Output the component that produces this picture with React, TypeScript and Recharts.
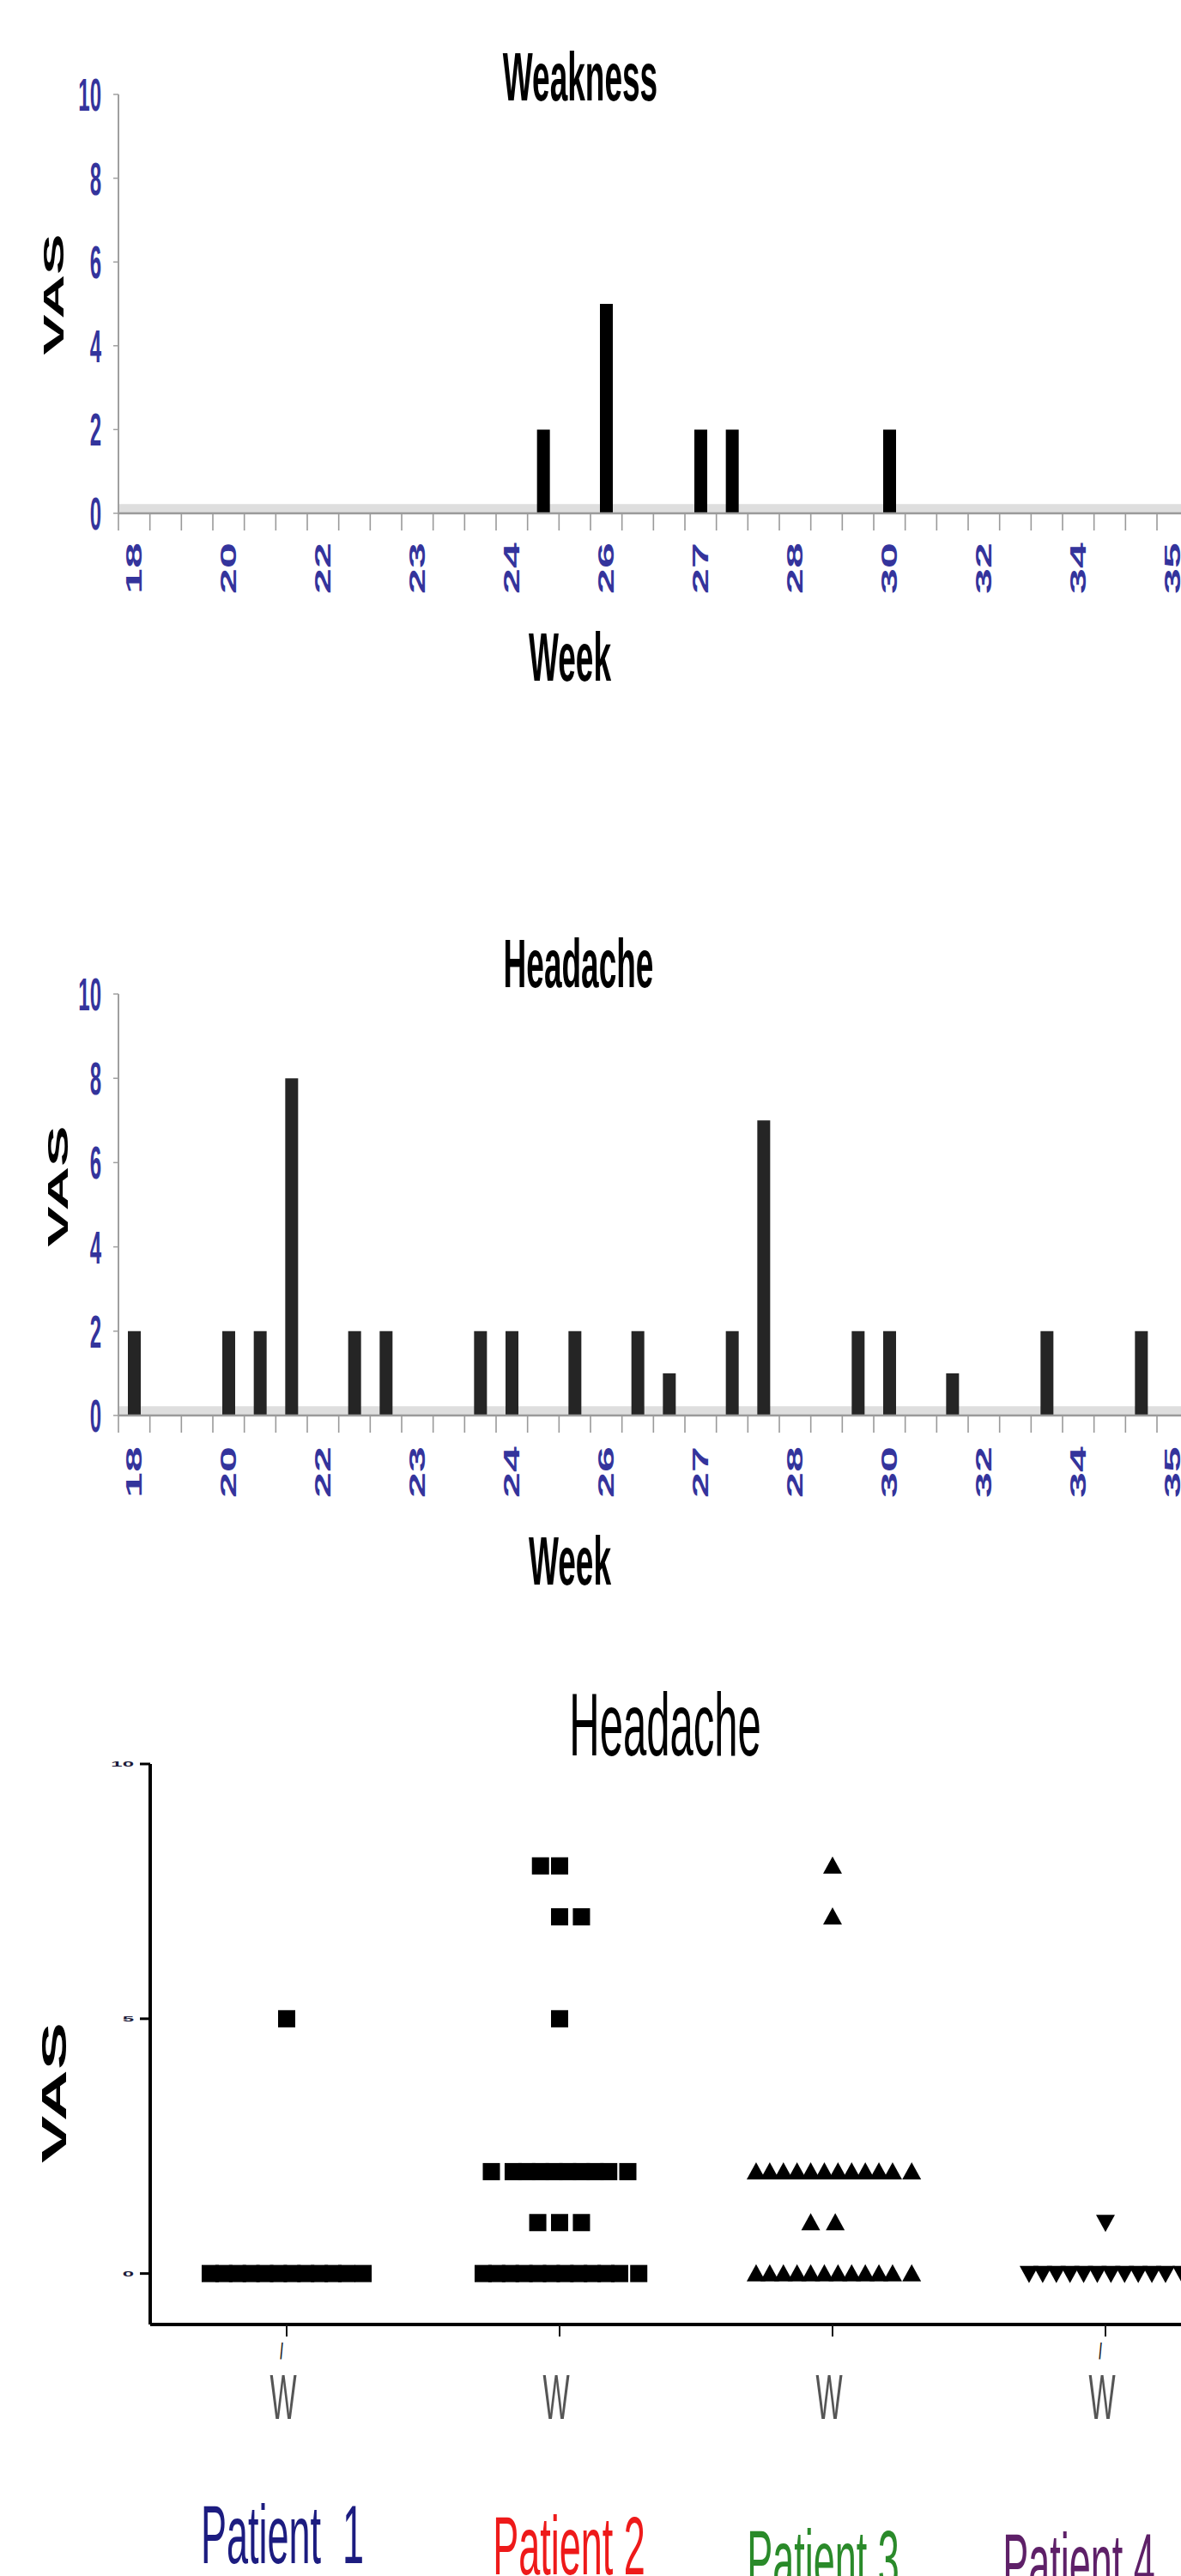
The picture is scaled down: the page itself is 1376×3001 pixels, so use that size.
import React from 'react';
import { BarChart, Bar, XAxis, YAxis, ReferenceArea, ScatterChart, Scatter } from 'recharts';

// ---------- data ----------
const slotLabels = ['18','','','20','','','22','','','23','','','24','','','26','','','27','','','28','','','30','','','32','','','34','','','35',''];
const weaknessVAS = [0,0,0,0,0, 0,0,0,0,0, 0,0,0,2,0, 5,0,0,2,2, 0,0,0,0,2, 0,0,0,0,0, 0,0,0,0,0];
const headacheVAS = [2,0,0,2,2, 8,0,2,2,0, 0,2,2,0,2, 0,2,1,0,2, 7,0,0,2,2, 0,1,0,0,2, 0,0,2,0,0];
const vasTicks = [0, 2, 4, 6, 8, 10];

const patientNames = ['Patient\u00A0\u00A01', 'Patient 2', 'Patient 3', 'Patient 4'];
const patientTicks = [1, 2, 3, 4];
const patientTickMarks = ['/', '', '', '/'];
const scatterTicks = [0, 5, 10];

const patient1Rows = [
  { vas: 0, offsets: [-0.28, -0.23, -0.18, -0.13, -0.08, -0.03, 0.02, 0.07, 0.12, 0.17, 0.22, 0.28] },
  { vas: 5, offsets: [0] },
];
const patient2Rows = [
  { vas: 0, offsets: [-0.28, -0.23, -0.18, -0.13, -0.08, -0.03, 0.02, 0.07, 0.12, 0.17, 0.22, 0.29] },
  { vas: 1, offsets: [-0.08, 0, 0.08] },
  { vas: 2, offsets: [-0.25, -0.17, -0.12, -0.07, -0.02, 0.03, 0.08, 0.13, 0.18, 0.25] },
  { vas: 5, offsets: [0] },
  { vas: 7, offsets: [0, 0.08] },
  { vas: 8, offsets: [-0.07, 0] },
];
const patient3Rows = [
  { vas: 0, offsets: [-0.28, -0.23, -0.18, -0.13, -0.08, -0.03, 0.02, 0.07, 0.12, 0.17, 0.22, 0.29] },
  { vas: 1, offsets: [-0.08, 0.01] },
  { vas: 2, offsets: [-0.28, -0.23, -0.18, -0.13, -0.08, -0.03, 0.02, 0.07, 0.12, 0.17, 0.22, 0.29] },
  { vas: 7, offsets: [0] },
  { vas: 8, offsets: [0] },
];
const patient4Rows = [
  { vas: 0, offsets: [-0.28, -0.23, -0.18, -0.13, -0.08, -0.03, 0.02, 0.07, 0.12, 0.17, 0.22, 0.28] },
  { vas: 1, offsets: [0] },
];

// ---------- layout ----------
const FONT = '"Liberation Sans", Arial, sans-serif';
const SLOTS = slotLabels.length;
const PLOT_LEFT = 138;
const BAND = 36.667;
const PLOT_W = BAND * SLOTS;
const BAR_CHART_W = 1460;
const BAR_CHART_H = 820;
const AXIS_BLUE = '#34349c';

const makeBarData = (values: number[]) => values.map((v, i) => ({ slot: i, vas: v }));
const weaknessData = makeBarData(weaknessVAS);
const headacheData = makeBarData(headacheVAS);

const toPoints = (p: number, rows: { vas: number; offsets: number[] }[]) =>
  rows.flatMap((r) => r.offsets.map((o) => ({ x: p + o, y: r.vas })));

const p1 = toPoints(1, patient1Rows);
const p2 = toPoints(2, patient2Rows);
const p3 = toPoints(3, patient3Rows);
const p4 = toPoints(4, patient4Rows);

// ---------- helpers ----------
const StretchText = ({ x, y, text, size, sy, weight = 'normal', fill = '#000', anchor = 'middle' }: any) => (
  <text
    transform={`translate(${x},${y}) scale(1,${sy})`}
    x={0}
    y={0}
    textAnchor={anchor}
    fontFamily={FONT}
    fontSize={size}
    fontWeight={weight}
    fill={fill}
    style={{ whiteSpace: 'pre' }}
  >
    {text}
  </text>
);

const VerticalText = ({ cx, cy, text, size, sx, weight = 'bold', fill = '#000' }: any) => (
  <text
    transform={`translate(${cx},${cy}) rotate(-90) scale(${sx},1)`}
    x={0}
    y={size * 0.358}
    textAnchor="middle"
    fontFamily={FONT}
    fontSize={size}
    fontWeight={weight}
    fill={fill}
  >
    {text}
  </text>
);

const makeWeekTick = (plotBottom: number, labelOffset: number) => (props: any) => {
  const { x, payload } = props;
  const label = slotLabels[payload.value];
  const bx = x - BAND / 2;
  return (
    <g>
      <line x1={bx} x2={bx} y1={plotBottom} y2={plotBottom + 20} stroke="#9a9a9a" strokeWidth={1.6} />
      {label ? (
        <VerticalText cx={x} cy={plotBottom + labelOffset} text={label} size={25} sx={2.15} fill={AXIS_BLUE} />
      ) : null}
    </g>
  );
};

const VasTick = (props: any) => {
  const { y, payload } = props;
  const size = 24;
  return (
    <text
      transform={`translate(118,${y}) scale(1,2.2)`}
      x={0}
      y={size * 0.358}
      textAnchor="end"
      fontFamily={FONT}
      fontSize={size}
      fontWeight="bold"
      fill={AXIS_BLUE}
    >
      {payload.value}
    </text>
  );
};

const BarPanel = ({ top, plotTop, plotBottom, data, fill, labelOffset }: any) => {
  const right = BAR_CHART_W - PLOT_LEFT - PLOT_W;
  const bottom = BAR_CHART_H - 100 - plotBottom;
  return (
    <div style={{ position: 'absolute', left: 0, top }}>
      <BarChart
        width={BAR_CHART_W}
        height={BAR_CHART_H}
        data={data}
        margin={{ top: plotTop, right, bottom, left: 0 }}
        barCategoryGap={0}
      >
        <ReferenceArea y1={0} y2={0.22} fill="#dedede" fillOpacity={1} stroke="none" ifOverflow="visible" />
        <XAxis
          dataKey="slot"
          type="category"
          interval={0}
          height={100}
          axisLine={{ stroke: '#9a9a9a', strokeWidth: 2.5 }}
          tickLine={false}
          tick={makeWeekTick(plotBottom, labelOffset)}
        />
        <YAxis
          type="number"
          domain={[0, 10]}
          ticks={vasTicks}
          width={PLOT_LEFT}
          axisLine={{ stroke: '#a0a0a0', strokeWidth: 2 }}
          tickLine={{ stroke: '#a0a0a0', strokeWidth: 1.5 }}
          tickSize={6}
          tick={VasTick}
          interval={0}
        />
        <Bar dataKey="vas" fill={fill} barSize={15} isAnimationActive={false} />
      </BarChart>
    </div>
  );
};

// ---------- scatter ----------
const SC_TOP = 1900;
const SC_PLOT_LEFT = 175;
const SC_PLOT_TOP = 2055 - SC_TOP;
const SC_PLOT_BOTTOM = 2708 - SC_TOP;
const SC_W = 1460;
const SC_H = 1000;
const SC_PLOT_W = 1272;

const Square = (props: any) => {
  const { cx, cy } = props;
  return <rect x={cx - 10} y={cy - 10} width={20} height={20} fill="#000" />;
};
const TriUp = (props: any) => {
  const { cx, cy } = props;
  return <polygon points={`${cx},${cy - 11} ${cx + 11},${cy + 9} ${cx - 11},${cy + 9}`} fill="#000" />;
};
const TriDown = (props: any) => {
  const { cx, cy } = props;
  return <polygon points={`${cx - 11},${cy - 9} ${cx + 11},${cy - 9} ${cx},${cy + 11}`} fill="#000" />;
};

const WTick = (props: any) => {
  const { x, payload } = props;
  const mark = patientTickMarks[patientTicks.indexOf(payload.value)];
  return (
    <g>
      {mark ? (
        <StretchText x={x - 6} y={SC_PLOT_BOTTOM + 40} text={mark} size={13} sy={2} weight="bold" fill="#222" />
      ) : null}
      <StretchText x={x - 4} y={SC_PLOT_BOTTOM + 110} text="W" size={33} sy={2.24} fill="#555" />
    </g>
  );
};

const TinyTick = (props: any) => {
  const { y, payload } = props;
  return (
    <text
      transform={`translate(156,${y}) scale(1.2,0.45)`}
      x={0}
      y={7}
      textAnchor="end"
      fontFamily={FONT}
      fontSize={20}
      fontWeight="bold"
      fill="#1a1a3a"
    >
      {payload.value}
    </text>
  );
};

const ScatterPanel = () => (
  <div style={{ position: 'absolute', left: 0, top: SC_TOP }}>
    <ScatterChart
      width={SC_W}
      height={SC_H}
      margin={{ top: SC_PLOT_TOP, right: SC_W - SC_PLOT_LEFT - SC_PLOT_W, bottom: SC_H - 100 - SC_PLOT_BOTTOM, left: 0 }}
    >
      <XAxis
        type="number"
        dataKey="x"
        domain={[0.5, 4.5]}
        ticks={patientTicks}
        interval={0}
        height={100}
        axisLine={{ stroke: '#000', strokeWidth: 4 }}
        tickLine={{ stroke: '#111', strokeWidth: 2 }}
        tickSize={14}
        tick={WTick}
      />
      <YAxis
        type="number"
        dataKey="y"
        domain={[-1, 10]}
        ticks={scatterTicks}
        interval={0}
        width={SC_PLOT_LEFT}
        axisLine={{ stroke: '#000', strokeWidth: 4 }}
        tickLine={{ stroke: '#000', strokeWidth: 3 }}
        tickSize={12}
        tick={TinyTick}
      />
      <Scatter data={p1} shape={Square} isAnimationActive={false} />
      <Scatter data={p2} shape={Square} isAnimationActive={false} />
      <Scatter data={p3} shape={TriUp} isAnimationActive={false} />
      <Scatter data={p4} shape={TriDown} isAnimationActive={false} />
    </ScatterChart>
  </div>
);

// ---------- overlay texts ----------
const Overlay = () => (
  <svg width={1376} height={3001} style={{ position: 'absolute', left: 0, top: 0, pointerEvents: 'none' }}>
    <StretchText x={676} y={117} text="Weakness" size={37} sy={2.15} weight="bold" />
    <VerticalText cx={62} cy={343} text="VAS" size={34} sx={2.1} />
    <StretchText x={664} y={793} text="Week" size={37} sy={2.15} weight="bold" />

    <StretchText x={674} y={1150} text="Headache" size={37} sy={2.15} weight="bold" />
    <VerticalText cx={67} cy={1382} text="VAS" size={34} sx={2.1} />
    <StretchText x={664} y={1846} text="Week" size={37} sy={2.15} weight="bold" />

    <StretchText x={775} y={2045} text="Headache" size={49} sy={2.12} />
    <VerticalText cx={63} cy={2438} text="VAS" size={40} sx={2.07} />

    <StretchText x={329} y={2986} text={patientNames[0]} size={45} sy={2.15} fill="#1c1c80" />
    <StretchText x={663} y={2999} text={patientNames[1]} size={45} sy={2.15} fill="#ee1a1a" />
    <StretchText x={959} y={3015} text={patientNames[2]} size={45} sy={2.15} fill="#2a8a2a" />
    <StretchText x={1257} y={3019} text={patientNames[3]} size={45} sy={2.15} fill="#5e2068" />
  </svg>
);

export default function App() {
  return (
    <div
      style={{
        position: 'absolute',
        left: 0,
        top: 0,
        width: 1376,
        height: 3001,
        overflow: 'hidden',
        background: '#fff',
      }}
    >
      <BarPanel top={0} plotTop={110} plotBottom={598} data={weaknessData} fill="#000" labelOffset={64} />
      <BarPanel top={1050} plotTop={108} plotBottom={599} data={headacheData} fill="#252525" labelOffset={66} />
      <ScatterPanel />
      <Overlay />
    </div>
  );
}
